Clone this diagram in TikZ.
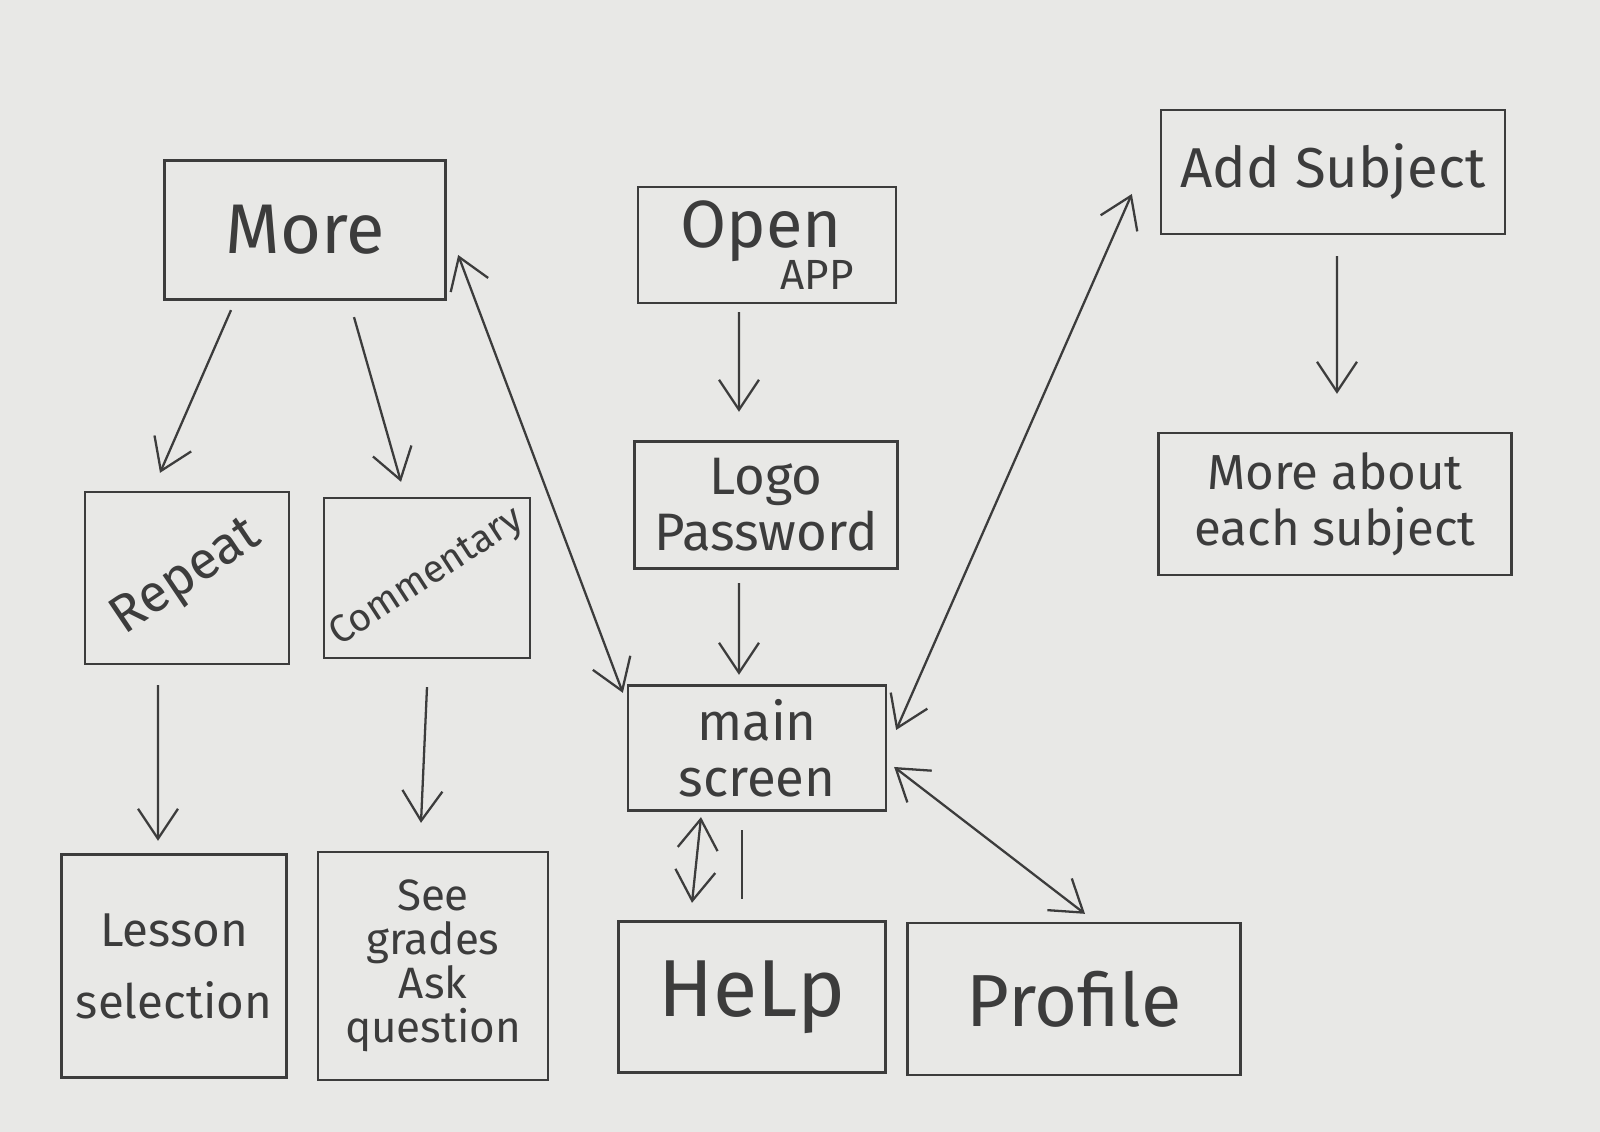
\documentclass[tikz,border=0pt]{standalone}
\usepackage{fontspec}
\setmainfont{Fira Sans}
\usetikzlibrary{arrows.meta}
\definecolor{paper}{HTML}{E8E8E6}
\definecolor{pen}{HTML}{3C3C3C}
\newcommand\fs[1]{\fontsize{#1}{#1}\selectfont}

\begin{document}
\begin{tikzpicture}[>={Straight Barb[length=6mm,width=8mm]},
box/.style={draw=pen,line width=1.3pt,text=pen,align=center,inner sep=0pt},
arr/.style={pen,line width=1.3pt,->},
darr/.style={pen,line width=1.3pt,<->}]
\useasboundingbox[fill=paper](0,0)rectangle(32,22.64);
\node[box,minimum width=5.62cm,minimum height=2.78cm,font=\fs{40}](more)at(6.10,18.04){More};
\node[box,minimum width=5.16cm,minimum height=2.32cm,font=\fs{38},align=left](open)at(15.34,17.74){Open\\[-14pt]\hspace*{2cm}\fs{24}APP};
\node[box,minimum width=5.26cm,minimum height=2.54cm,font=\fs{30}](logo)at(15.32,12.54){Logo\\[2pt]Password};
\node[box,minimum width=5.16cm,minimum height=2.50cm,font=\fs{30}](mains)at(15.14,7.68){main\\[2pt]screen};
\node[box,minimum width=6.88cm,minimum height=2.48cm,font=\fs{32}](addsub)at(26.66,19.20){Add Subject};
\node[box,minimum width=7.06cm,minimum height=2.84cm,font=\fs{28}](moreabout)at(26.70,12.56){More about\\[4pt]each subject};
\node[box,minimum width=4.08cm,minimum height=3.44cm,font=\fs{30}](repeat)at(3.74,11.08){\rotatebox{34}{Repeat}};
\node[box,minimum width=4.10cm,minimum height=3.20cm,font=\fs{22}](comment)at(8.54,11.08){\rotatebox{33}{Commentary}};
\node[box,minimum width=4.50cm,minimum height=4.46cm,font=\fs{27}](lesson)at(3.48,3.32){Lesson\\[14pt]selection};
\node[box,minimum width=4.60cm,minimum height=4.56cm,font=\fs{25}](see)at(8.66,3.32){See\\grades\\Ask\\question};
\node[box,minimum width=5.34cm,minimum height=3.02cm,font=\fs{46}](help)at(15.04,2.70){HeLp};
\node[box,minimum width=6.66cm,minimum height=3.04cm,font=\fs{42}](profile)at(21.48,2.66){Profile};
\draw[arr]([shift={(-1.48,-0.19)}]more.south)--([shift={(-0.54,0.36)}]repeat.north);
\draw[arr]([shift={(0.98,-0.33)}]more.south)--([shift={(-0.52,0.30)}]comment.north);
\draw[darr]([shift={(0.23,-0.50)}]more.east)--([shift={(-0.08,-0.17)}]mains.north west);
\draw[arr]([shift={(-0.56,-0.16)}]open.south)--([shift={(-0.54,0.57)}]logo.north);
\draw[arr]([shift={(-0.54,-0.27)}]logo.south)--([shift={(-0.36,0.19)}]mains.north);
\draw[darr]([shift={(0.18,0.36)}]mains.east)--([shift={(-0.56,-0.44)}]addsub.west);
\draw[arr]([shift={(0.08,-0.42)}]addsub.south)--([shift={(0.04,0.76)}]moreabout.north);
\draw[arr]([shift={(-0.58,-0.40)}]repeat.south)--([shift={(-0.32,0.25)}]lesson.north);
\draw[arr]([shift={(0,-0.56)}]comment.south)--([shift={(-0.24,0.56)}]see.north);
\draw[darr]([shift={(-1.12,-0.11)}]mains.south)--([shift={(-1.20,0.35)}]help.north);
\draw[pen,line width=1.3pt]([shift={(-0.30,-0.37)}]mains.south)--([shift={(-0.20,0.43)}]help.north);
\draw[darr]([shift={(0.14,-0.38)}]mains.east)--([shift={(0.22,0.16)}]profile.north);
\end{tikzpicture}
\end{document}
